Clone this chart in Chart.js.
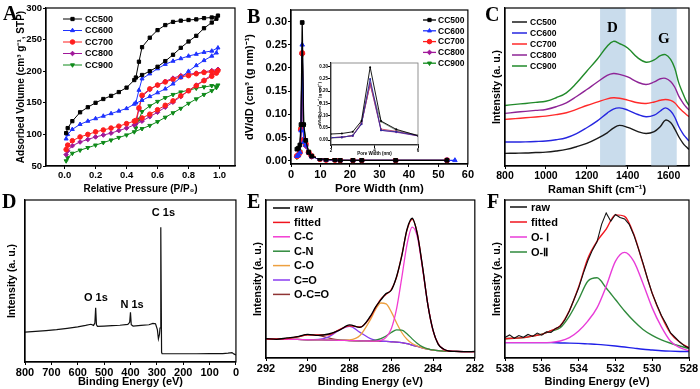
<!DOCTYPE html>
<html>
<head>
<meta charset="utf-8">
<title>Porous carbon characterisation</title>
<script src="https://cdn.jsdelivr.net/npm/chart.js"></script>
<style>
  body { margin: 0; background: #fff; }
  #wrap { position: relative; width: 700px; height: 389px; overflow: hidden; background: #fff; }
  canvas { position: absolute; }
  .tag { position: absolute; font: bold 20px 'Liberation Serif', 'Times New Roman', serif; line-height: 20px; color: #000; }
</style>
</head>
<body>
<div id="wrap">
  <canvas id="cA" width="240" height="200" style="left:0;top:0"></canvas>
  <canvas id="cB" width="235" height="200" style="left:240px;top:0"></canvas>
  <canvas id="cBin" width="106" height="100" style="left:316px;top:58px;background:#fff"></canvas>
  <canvas id="cC" width="225" height="200" style="left:475px;top:0"></canvas>
  <canvas id="cD" width="240" height="199" style="left:0;top:190px"></canvas>
  <canvas id="cF" width="225" height="199" style="left:475px;top:190px"></canvas>
  <canvas id="cE" width="245" height="199" style="left:240px;top:190px"></canvas>
  <div class="tag" style="left:3px;top:3px">A</div>
  <div class="tag" style="left:247px;top:6px">B</div>
  <div class="tag" style="left:485px;top:4px">C</div>
  <div class="tag" style="left:2px;top:191px">D</div>
  <div class="tag" style="left:247px;top:191px">E</div>
  <div class="tag" style="left:487px;top:191px">F</div>
</div>
<script>
// ---- A: N2 sorption isotherms (adsorption then desorption branch)
const pressureAds = [0.01, 0.02, 0.05, 0.10, 0.15, 0.20, 0.25, 0.30, 0.35, 0.40, 0.45, 0.50, 0.55, 0.60, 0.65, 0.70, 0.75, 0.80, 0.85, 0.90, 0.95, 0.98];
const pressureDes = [0.99, 0.95, 0.90, 0.85, 0.80, 0.75, 0.70, 0.65, 0.60, 0.55, 0.50, 0.48, 0.46];
const cc500Ads = [102, 110, 121, 135, 143, 150, 156, 161, 167, 174, 186, 194, 200, 207, 216, 226, 237, 247, 256, 268, 277, 283];
const cc500Des = [288, 285, 284, 282, 281, 280, 278, 273, 265, 253, 238, 215, 190];
const cc600Ads = [93, 100, 108, 116, 121, 125, 129, 133, 137, 141, 148, 154, 160, 166, 172, 180, 190, 200, 209, 217, 224, 229];
const cc600Des = [237, 232, 230, 227, 224, 220, 216, 211, 204, 196, 188, 170, 150];
const cc700Ads = [76, 83, 90, 96, 100, 104, 107, 110, 113, 117, 121, 126, 132, 139, 146, 153, 161, 169, 177, 185, 192, 197];
const cc700Des = [201, 199, 198, 196, 193, 191, 187, 183, 178, 172, 162, 142, 122];
const cc800Ads = [68, 74, 82, 88, 92, 96, 99, 102, 106, 110, 115, 121, 128, 135, 143, 151, 160, 169, 178, 186, 194, 199];
const cc800Des = [203, 201, 199, 197, 195, 193, 189, 184, 178, 171, 160, 140, 117];
const cc900Ads = [58, 63, 70, 75, 79, 83, 87, 91, 95, 99, 104, 109, 114, 120, 127, 134, 141, 149, 156, 163, 169, 174];
const cc900Des = [178, 177, 175, 173, 170, 167, 163, 158, 152, 145, 136, 124, 110];
const pressureTicks = [0, 0.2, 0.4, 0.6, 0.8, 1.0];
const volumeTicks = [50, 100, 150, 200, 250, 300];

// ---- B: pore size distribution
const poreWidth = [2.0, 2.5, 3.0, 3.4, 3.8, 4.3, 5.0, 6.0, 7.0, 9.8, 11.9, 14.9, 16.7, 21.0, 24.0, 35.5, 52.9, 55.6];
const cc500Pore = [0.025, 0.027, 0.034, 0.078, 0.298, 0.078, 0.044, 0.018, 0.010, 0.004, 0.003, 0.002, 0.001, 0.001, 0.001, 0.001, 0.001, null];
const cc600Pore = [0.010, 0.012, 0.018, 0.065, 0.250, 0.040, 0.034, 0.018, 0.009, 0.004, 0.002, 0.002, 0.001, 0.001, 0.001, 0.001, 0.001, 0.001];
const cc700Pore = [0.010, 0.012, 0.018, 0.068, 0.232, 0.045, 0.036, 0.018, 0.010, 0.004, 0.002, 0.002, 0.001, 0.001, 0.001, 0.001, 0.001, null];
const cc800Pore = [0.010, 0.012, 0.018, 0.066, 0.230, 0.040, 0.032, 0.017, 0.009, 0.004, 0.002, 0.002, 0.001, 0.001, 0.001, 0.001, 0.001, null];
const cc900Pore = [0.008, 0.011, 0.020, 0.070, 0.228, 0.075, 0.040, 0.020, 0.011, 0.004, 0.003, 0.002, 0.001, 0.001, 0.001, 0.001, 0.001, null];
const poreTicks = [0, 10, 20, 30, 40, 50, 60];
const dvTicks = [0, 0.05, 0.10, 0.15, 0.20, 0.25, 0.30];
const insetPoreTicks = [2, 4, 6];
const insetCount = 8; // points with width <= 6 nm shown in the inset

// ---- C: Raman spectra
const ramanShift = [800, 850, 900, 950, 1000, 1050, 1100, 1150, 1200, 1250, 1300, 1330, 1360, 1400, 1450, 1490, 1530, 1560, 1585, 1610, 1630, 1650, 1670, 1685, 1700];
const cc500Raman = [8.0, 8.1, 8.2, 8.5, 8.8, 9.5, 10.5, 12.2, 14.3, 17.3, 21.0, 24.0, 25.7, 24.4, 21.8, 20.6, 21.8, 25.0, 29.0, 27.5, 23.5, 18.5, 14.5, 12.3, 10.5];
const cc600Raman = [15.2, 15.2, 15.3, 15.5, 15.8, 16.6, 17.9, 20.5, 24.2, 28.4, 33.5, 36.0, 36.8, 35.4, 32.6, 31.2, 32.2, 34.8, 36.8, 34.8, 31.0, 25.0, 20.5, 18.0, 15.8];
const cc700Raman = [29.5, 30.0, 30.5, 31.0, 31.6, 32.5, 33.7, 35.8, 38.3, 40.4, 42.5, 43.2, 42.9, 41.7, 40.0, 39.6, 40.5, 41.6, 42.1, 41.5, 40.0, 37.0, 34.5, 32.8, 31.2];
const cc800Raman = [33.3, 34.0, 34.6, 35.2, 35.8, 37.5, 40.0, 44.0, 48.4, 53.0, 57.3, 58.5, 58.0, 56.4, 53.0, 51.6, 53.2, 55.2, 55.5, 53.5, 50.0, 44.2, 40.0, 37.5, 35.4];
const cc900Raman = [38.3, 39.0, 39.6, 40.3, 41.0, 43.2, 46.3, 52.5, 60.0, 67.4, 75.8, 78.9, 77.5, 74.7, 68.4, 65.7, 67.2, 69.8, 70.5, 67.5, 62.0, 52.6, 46.0, 41.5, 38.3];
const ramanTicks = [800, 1000, 1200, 1400, 1600];
const ramanBands = [[1265, 1390], [1515, 1640]];
const bandNames = ['D', 'G'];
const bandNameX = [1325, 1577];
const bandNameY = [87, 80];

// ---- D: XPS survey
const surveyEnergy = [800, 760, 720, 680, 640, 600, 570, 550, 540, 535, 532, 529, 525, 500, 470, 440, 410, 403, 400, 397, 390, 360, 330, 315, 305, 298, 294, 290, 288, 285, 282, 280, 250, 200, 150, 100, 50, 30, 15, 8, 0];
const surveyCounts = [18.4, 18.9, 19.4, 20.0, 20.8, 21.7, 22.6, 23.3, 22.6, 24.0, 33.4, 23.0, 22.0, 22.2, 22.4, 22.7, 23.2, 24.5, 30.7, 23.0, 22.2, 22.6, 23.0, 23.8, 23.6, 20.0, 14.3, 17.0, 21.0, 83.2, 6.0, 5.1, 5.1, 5.1, 5.1, 5.2, 5.2, 5.5, 5.8, 5.0, 4.3];
const surveyTicks = [800, 700, 600, 500, 400, 300, 200, 100, 0];
const surveyPeaks = ['C 1s', 'O 1s', 'N 1s'];
const surveyPeakX = [275, 531, 394];
const surveyPeakY = [92, 39.5, 35.5];

// ---- E: C 1s fit
const c1sEnergy = [292, 291.5, 291, 290.5, 290, 289.5, 289, 288.5, 288, 287.5, 287, 286.75, 286.5, 286.25, 286, 285.75, 285.5, 285.25, 285, 284.75, 284.5, 284.25, 284, 283.75, 283.5, 283.25, 283, 282.5, 282];
const c1sRaw    = [8.7, 8.3, 9.2, 10.1, 11.6, 10.9, 11.8, 14.2, 17.8, 16.1, 23.5, 29.6, 34.2, 38.4, 40.6, 49.5, 63.0, 80.6, 88.0, 77.4, 55.8, 31.0, 14.3, 5.0, 1.9, 0.6, 0.4, 0.2, 0.3];
const c1sFitted = [8.5, 8.5, 8.8, 9.9, 11.2, 11.2, 11.3, 14.6, 17.2, 16.4, 23.0, 29.2, 34.7, 37.9, 41.1, 48.9, 63.6, 80.0, 87.2, 77.9, 55.3, 31.3, 14.0, 5.2, 1.7, 0.6, 0.3, 0.2, 0.2];
const c1sCC     = [8.5, 8.4, 8.3, 8.2, 8.0, 7.9, 7.8, 7.6, 7.5, 7.3, 7.2, 7.1, 7.6, 9.6, 15.3, 28.2, 48.7, 70.5, 82.1, 75.6, 54.6, 31.1, 14.0, 5.2, 1.7, 0.6, 0.3, 0.2, 0.2];
const c1sCN     = [8.5, 8.4, 8.3, 8.2, 8.0, 7.9, 7.8, 7.6, 7.5, 7.3, 7.4, 7.7, 8.7, 10.5, 12.8, 14.5, 14.3, 12.0, 8.6, 5.6, 3.3, 2.0, 1.3, 0.8, 0.5, 0.4, 0.3, 0.2, 0.2];
const c1sCO     = [8.5, 8.4, 8.3, 8.2, 8.0, 7.9, 7.8, 7.6, 7.9, 10.8, 21.3, 28.0, 32.2, 31.6, 26.4, 19.2, 12.8, 8.3, 5.5, 3.9, 2.7, 1.8, 1.2, 0.8, 0.5, 0.4, 0.3, 0.2, 0.2];
const c1sCdO    = [8.5, 8.4, 8.3, 8.2, 8.0, 8.2, 9.9, 14.3, 16.8, 12.9, 8.7, 7.7, 7.2, 6.9, 6.7, 6.5, 6.1, 5.4, 4.5, 3.6, 2.6, 1.8, 1.2, 0.8, 0.5, 0.4, 0.3, 0.2, 0.2];
const c1sOCdO   = [8.5, 8.5, 8.8, 9.9, 11.2, 10.9, 9.2, 7.9, 7.5, 7.3, 7.2, 7.1, 7.0, 6.9, 6.7, 6.5, 6.1, 5.4, 4.5, 3.6, 2.6, 1.8, 1.2, 0.8, 0.5, 0.4, 0.3, 0.2, 0.2];
const c1sTicks = [292, 290, 288, 286, 284, 282];

// ---- F: O 1s fit
const o1sEnergy = [538, 537.5, 537, 536.5, 536, 535.5, 535, 534.5, 534, 533.5, 533, 532.5, 532, 531.5, 531, 530.5, 530, 529.5, 529, 528.5, 528];
const o1sFitted = [8.7, 9.0, 9.4, 10.5, 11.6, 14.0, 17.2, 27.2, 42.7, 61.5, 72.8, 80.8, 90.2, 89.2, 77.4, 58.0, 38.6, 23.6, 12.2, 6.4, 2.7];
const o1sI      = [6.1, 6.1, 6.1, 6.1, 6.1, 6.3, 7.2, 9.4, 13.8, 20.3, 29.0, 43.2, 59.6, 65.5, 59.6, 45.0, 29.0, 16.5, 7.0, 2.8, 0.7];
const o1sII     = [8.7, 9.0, 9.4, 10.5, 11.6, 13.8, 15.9, 23.6, 34.5, 46.5, 48.8, 42.1, 34.5, 26.9, 20.3, 14.8, 10.9, 7.9, 5.7, 3.9, 2.2];
const o1sBase   = [6.1, 6.1, 6.1, 6.1, 6.1, 6.1, 5.9, 5.8, 5.6, 5.3, 5.0, 4.5, 3.9, 3.2, 2.5, 1.8, 1.3, 0.8, 0.5, 0.3, 0.2];
const o1sRawEnergy = [538, 537.75, 537.5, 537.25, 537, 536.75, 536.5, 536.25, 536, 535.75, 535.5, 535.25, 535, 534.75, 534.5, 534.25, 534, 533.75, 533.5, 533.25, 533, 532.75, 532.5, 532.25, 532, 531.75, 531.5, 531.25, 531, 530.75, 530.5, 530.25, 530, 529.75, 529.5, 529.25, 529, 528.75, 528.5, 528.25, 528];
const o1sRaw = [9.5, 11.2, 9.0, 10.8, 9.6, 11.5, 10.2, 12.4, 11.0, 13.2, 12.8, 15.5, 16.8, 21.0, 27.0, 34.5, 42.0, 51.5, 60.0, 67.0, 72.5, 84.0, 91.5, 86.0, 90.5, 88.5, 87.5, 84.0, 77.0, 68.0, 58.5, 48.0, 38.5, 31.0, 24.0, 18.5, 12.5, 9.5, 6.5, 4.0, 2.5];
const o1sTicks = [538, 536, 534, 532, 530, 528];

const SANS = "'Liberation Sans', Arial, sans-serif";
Chart.defaults.font.family = SANS;
Chart.defaults.font.weight = 'bold';
Chart.defaults.color = '#000';
Chart.defaults.animation = false;
Chart.defaults.plugins.legend.display = false;
Chart.defaults.plugins.tooltip.enabled = false;

function pts(xs, ys) { return xs.map((x, i) => ({x: x, y: ys[i]})); }

// box around the plotting area
const frame = {
  id: 'frame',
  afterDraw(chart, args, o) {
    const {ctx, chartArea: a} = chart;
    ctx.save();
    ctx.strokeStyle = o.color || '#000';
    ctx.lineWidth = o.width || 1.2;
    ctx.strokeRect(a.left, a.top, a.width, a.height);
    ctx.restore();
  }
};

// legend drawn inside the plot, one row per labelled dataset
const boxLegend = {
  id: 'boxLegend',
  afterDraw(chart, args, o) {
    const {ctx, chartArea: a} = chart;
    ctx.save();
    ctx.font = o.font;
    ctx.textBaseline = 'middle';
    let y = a.top + o.top;
    chart.data.datasets.forEach(ds => {
      if (!ds.label) return;
      const x0 = a.left + o.left;
      ctx.strokeStyle = ds.borderColor;
      ctx.fillStyle = ds.borderColor;
      ctx.lineWidth = o.lineWidth || 1.5;
      ctx.beginPath(); ctx.moveTo(x0, y); ctx.lineTo(x0 + o.lineLen, y); ctx.stroke();
      if (o.marker && Chart.helpers && Chart.helpers.drawPoint) {
        ctx.lineWidth = 1;
        Chart.helpers.drawPoint(ctx, {pointStyle: ds.pointStyle, rotation: ds.pointRotation || 0, radius: o.marker, borderWidth: 1}, x0 + o.lineLen / 2, y);
      }
      ctx.fillStyle = '#000';
      ctx.fillText(ds.label, x0 + o.lineLen + o.gap, y + 0.5);
      y += o.rowH;
    });
    ctx.restore();
  }
};

// text placed at data coordinates
const textMarks = {
  id: 'textMarks',
  afterDatasetsDraw(chart, args, o) {
    const {ctx, scales: {x, y}} = chart;
    ctx.save();
    ctx.font = o.font;
    ctx.fillStyle = '#000';
    ctx.textAlign = 'center';
    ctx.textBaseline = 'middle';
    o.labels.forEach((t, i) => ctx.fillText(t, x.getPixelForValue(o.xs[i]), y.getPixelForValue(o.ys[i])));
    ctx.restore();
  }
};

// shaded wavenumber ranges
const bands = {
  id: 'bands',
  beforeDatasetsDraw(chart, args, o) {
    const {ctx, chartArea: a, scales: {x}} = chart;
    ctx.save();
    ctx.fillStyle = o.color;
    o.ranges.forEach(r => {
      const x0 = x.getPixelForValue(r[0]), x1 = x.getPixelForValue(r[1]);
      ctx.fillRect(x0, a.top, x1 - x0, a.height);
    });
    ctx.restore();
  }
};

function axis(o) {
  const horiz = o.horiz;
  return {
    type: 'linear',
    min: o.min, max: o.max, reverse: !!o.reverse,
    afterBuildTicks: s => { s.ticks = (o.ticks || []).map(v => ({value: v})); },
    afterFit: s => { if (horiz) s.height = o.size; else s.width = o.size; },
    ticks: {
      display: !!o.ticks, autoSkip: false, maxRotation: 0, padding: o.pad == null ? 1 : o.pad,
      font: {size: o.font || 10},
      callback: v => o.digits == null ? v : Number(v).toFixed(o.digits)
    },
    grid: { display: !!o.ticks, drawOnChartArea: false, drawTicks: true, tickLength: 3, color: '#000', lineWidth: 1 },
    border: { display: true, color: '#000', width: 1.2 },
    title: {
      display: !!o.title, text: o.title, font: {size: o.titleSize || 10.5},
      padding: horiz ? {top: 0, bottom: o.titlePad} : {top: o.titlePad, bottom: 0}
    }
  };
}

function base(padding, scales, plugins) {
  return {
    responsive: false,
    animation: false,
    layout: { padding: padding },
    elements: { line: { fill: false } },
    scales: scales,
    plugins: plugins
  };
}

// ---------- A
const isoStyle = [
  {label: 'CC500', ads: cc500Ads, des: cc500Des, color: '#000000', point: 'rect', rot: 0},
  {label: 'CC600', ads: cc600Ads, des: cc600Des, color: '#1e32ff', point: 'triangle', rot: 0},
  {label: 'CC700', ads: cc700Ads, des: cc700Des, color: '#ff1e1e', point: 'circle', rot: 0},
  {label: 'CC800', ads: cc800Ads, des: cc800Des, color: '#a0189a', point: 'rectRot', rot: 0},
  {label: 'CC900', ads: cc900Ads, des: cc900Des, color: '#0f8a1a', point: 'triangle', rot: 180}
];
new Chart(document.getElementById('cA'), {
  type: 'line',
  data: {
    datasets: isoStyle.map(s => ({
      label: s.label,
      data: pts(pressureAds, s.ads).concat(pts(pressureDes, s.des)),
      borderColor: s.color, backgroundColor: s.color, borderWidth: 1,
      pointStyle: s.point, pointRotation: s.rot, pointRadius: 2.3, pointBorderWidth: 1, tension: 0
    }))
  },
  options: base({top: 8, right: 3, left: 0, bottom: 0}, {
    x: axis({horiz: true, min: -0.12, max: 1.1, ticks: pressureTicks, digits: 1, size: 34, font: 9.5, pad: 1,
             title: 'Relative Pressure (P/P\u2080)', titleSize: 10, titlePad: 5}),
    y: axis({min: 50, max: 300, ticks: volumeTicks, size: 46, font: 9.5, pad: 1,
             title: 'Adsorbed Volume (cm\u00b3 g\u207b\u00b9, STP)', titleSize: 10, titlePad: 15})
  }, {
    frame: {},
    boxLegend: {left: 17, top: 11, rowH: 11.5, lineLen: 19, gap: 3, font: 'bold 9px ' + SANS, marker: 2.3, lineWidth: 1}
  }),
  plugins: [frame, boxLegend]
});

// ---------- B
const poreStyle = [
  {label: 'CC500', vals: cc500Pore, color: '#000000', point: 'rect', rot: 0},
  {label: 'CC600', vals: cc600Pore, color: '#1e32ff', point: 'triangle', rot: 0},
  {label: 'CC700', vals: cc700Pore, color: '#ff1e1e', point: 'circle', rot: 0},
  {label: 'CC800', vals: cc800Pore, color: '#a0189a', point: 'rectRot', rot: 0},
  {label: 'CC900', vals: cc900Pore, color: '#0f8a1a', point: 'triangle', rot: 180}
];
new Chart(document.getElementById('cB'), {
  type: 'line',
  data: {
    datasets: poreStyle.map(s => ({
      label: s.label, data: pts(poreWidth, s.vals),
      borderColor: s.color, backgroundColor: s.color, borderWidth: 1.3,
      pointStyle: s.point, pointRotation: s.rot, pointRadius: 2.6, pointBorderWidth: 1, tension: 0
    }))
  },
  options: base({top: 10, right: 5, left: 0, bottom: 0}, {
    x: axis({horiz: true, min: 0, max: 60, ticks: poreTicks, size: 36, font: 11, pad: 1,
             title: 'Pore Width (nm)', titleSize: 11.5, titlePad: 4}),
    y: axis({min: -0.007, max: 0.325, ticks: dvTicks, digits: 2, size: 51, font: 11, pad: 1,
             title: 'dV/dD (cm\u00b3 (g nm)\u207b\u00b9)', titleSize: 11, titlePad: 3})
  }, {
    frame: {},
    boxLegend: {left: 132, top: 10, rowH: 10.8, lineLen: 13, gap: 2, font: 'bold 8.5px ' + SANS, marker: 2.3, lineWidth: 1.3}
  }),
  plugins: [frame, boxLegend]
});

// ---------- B inset (pores below 6 nm)
const insetColors = ['#000000', '#2a2aa0', '#c04060', '#a040a0', '#7a8a7a'];
new Chart(document.getElementById('cBin'), {
  type: 'line',
  data: {
    datasets: poreStyle.map((s, i) => ({
      data: pts(poreWidth.slice(0, insetCount), s.vals.slice(0, insetCount)),
      borderColor: insetColors[i], backgroundColor: insetColors[i], borderWidth: 0.9,
      pointRadius: 1, pointBorderWidth: 0, tension: 0
    }))
  },
  options: base({top: 5, right: 2, left: 0, bottom: 0}, {
    x: axis({horiz: true, min: 2, max: 6, ticks: insetPoreTicks, size: 13, font: 4.5, pad: 0,
             title: 'Pore Width (nm)', titleSize: 4.5, titlePad: 2}),
    y: axis({min: -0.02, max: 0.315, ticks: dvTicks, digits: 2, size: 15, font: 4.5, pad: 0,
             title: 'dV/dD (cm\u00b3 g\u207b\u00b9 (g nm)\u207b\u00b9)', titleSize: 4, titlePad: 1})
  }, {
    frame: {color: '#777', width: 0.8}
  }),
  plugins: [frame]
});

// ---------- C
const ramanStyle = [
  {label: 'CC500', vals: cc500Raman, color: '#1a1a1a'},
  {label: 'CC600', vals: cc600Raman, color: '#2626e0'},
  {label: 'CC700', vals: cc700Raman, color: '#ff2a2a'},
  {label: 'CC800', vals: cc800Raman, color: '#8e2496'},
  {label: 'CC900', vals: cc900Raman, color: '#218a2a'}
];
new Chart(document.getElementById('cC'), {
  type: 'line',
  data: {
    datasets: ramanStyle.map(s => ({
      label: s.label, data: pts(ramanShift, s.vals),
      borderColor: s.color, borderWidth: 1.4, pointRadius: 0, tension: 0.4
    }))
  },
  options: base({top: 8, right: 11, left: 0, bottom: 0}, {
    x: axis({horiz: true, min: 800, max: 1700, ticks: ramanTicks, size: 34, font: 10.5, pad: 1,
             title: 'Raman Shift (cm\u207b\u00b9)', titleSize: 11, titlePad: 3}),
    y: axis({min: 0, max: 100, size: 30, title: 'Intensity (a. u.)', titleSize: 10.5, titlePad: 15.5})
  }, {
    frame: {},
    bands: {ranges: ramanBands, color: '#c9dcec'},
    textMarks: {labels: bandNames, xs: bandNameX, ys: bandNameY, font: "bold 15px 'Liberation Serif', serif"},
    boxLegend: {left: 7, top: 14, rowH: 11, lineLen: 15, gap: 3, font: 'bold 8.5px ' + SANS, lineWidth: 1.5}
  }),
  plugins: [bands, frame, textMarks, boxLegend]
});

// ---------- D
new Chart(document.getElementById('cD'), {
  type: 'line',
  data: {
    datasets: [{ data: pts(surveyEnergy, surveyCounts), borderColor: '#111', borderWidth: 1.2, pointRadius: 0, tension: 0 }]
  },
  options: base({top: 10, right: 1, left: 0, bottom: 0}, {
    x: axis({horiz: true, min: 0, max: 800, reverse: true, ticks: surveyTicks, size: 27, font: 11, pad: 1,
             title: 'Binding Energy (eV)', titleSize: 11, titlePad: 0}),
    y: axis({min: 0, max: 100, size: 25, title: 'Intensity (a. u.)', titleSize: 10.5, titlePad: 5.5})
  }, {
    frame: {},
    textMarks: {labels: surveyPeaks, xs: surveyPeakX, ys: surveyPeakY, font: 'bold 11px ' + SANS}
  }),
  plugins: [frame, textMarks]
});

// ---------- E
const c1sStyle = [
  {label: 'raw', vals: c1sRaw, color: '#000000'},
  {label: 'fitted', vals: c1sFitted, color: '#f0141e'},
  {label: 'C-C', vals: c1sCC, color: '#f23cd2'},
  {label: 'C-N', vals: c1sCN, color: '#2f8a3c'},
  {label: 'C-O', vals: c1sCO, color: '#eda040'},
  {label: 'C=O', vals: c1sCdO, color: '#8a3cf0'},
  {label: 'O-C=O', vals: c1sOCdO, color: '#8f3434'}
];
new Chart(document.getElementById('cE'), {
  type: 'line',
  data: {
    datasets: c1sStyle.map(s => ({
      label: s.label, data: pts(c1sEnergy, s.vals),
      borderColor: s.color, borderWidth: 1.3, pointRadius: 0, cubicInterpolationMode: 'monotone'
    }))
  },
  options: base({top: 10, right: 3, left: 0, bottom: 0}, {
    x: axis({horiz: true, min: 282, max: 292, reverse: true, ticks: c1sTicks, size: 31, font: 11, pad: 1,
             title: 'Binding Energy (eV)', titleSize: 11, titlePad: 0}),
    y: axis({min: -4, max: 100, size: 26, title: 'Intensity (a. u.)', titleSize: 10.5, titlePad: 11.5})
  }, {
    frame: {},
    boxLegend: {left: 7, top: 8, rowH: 14.4, lineLen: 17, gap: 4, font: 'bold 11px ' + SANS, lineWidth: 1.5}
  }),
  plugins: [frame, boxLegend]
});

// ---------- F
new Chart(document.getElementById('cF'), {
  type: 'line',
  data: {
    datasets: [
      {label: 'raw', data: pts(o1sRawEnergy, o1sRaw), borderColor: '#111111', borderWidth: 1.1, pointRadius: 0, tension: 0},
      {label: 'fitted', data: pts(o1sEnergy, o1sFitted), borderColor: '#f0141e', borderWidth: 1.4, pointRadius: 0, cubicInterpolationMode: 'monotone'},
      {label: 'O- \u2160', data: pts(o1sEnergy, o1sI), borderColor: '#e83cd8', borderWidth: 1.4, pointRadius: 0, cubicInterpolationMode: 'monotone'},
      {label: 'O-\u2161', data: pts(o1sEnergy, o1sII), borderColor: '#2f8a3c', borderWidth: 1.4, pointRadius: 0, cubicInterpolationMode: 'monotone'},
      {data: pts(o1sEnergy, o1sBase), borderColor: '#2020e8', borderWidth: 1.4, pointRadius: 0, cubicInterpolationMode: 'monotone'}
    ]
  },
  options: base({top: 10, right: 11, left: 0, bottom: 0}, {
    x: axis({horiz: true, min: 528, max: 538, reverse: true, ticks: o1sTicks, size: 31, font: 11, pad: 1,
             title: 'Binding Energy (eV)', titleSize: 11, titlePad: 0}),
    y: axis({min: -4, max: 100, size: 30, title: 'Intensity (a. u.)', titleSize: 10.5, titlePad: 15.5})
  }, {
    frame: {},
    boxLegend: {left: 5, top: 7, rowH: 15, lineLen: 17, gap: 4, font: 'bold 11px ' + SANS, lineWidth: 1.5}
  }),
  plugins: [frame, boxLegend]
});
</script>
</body>
</html>
